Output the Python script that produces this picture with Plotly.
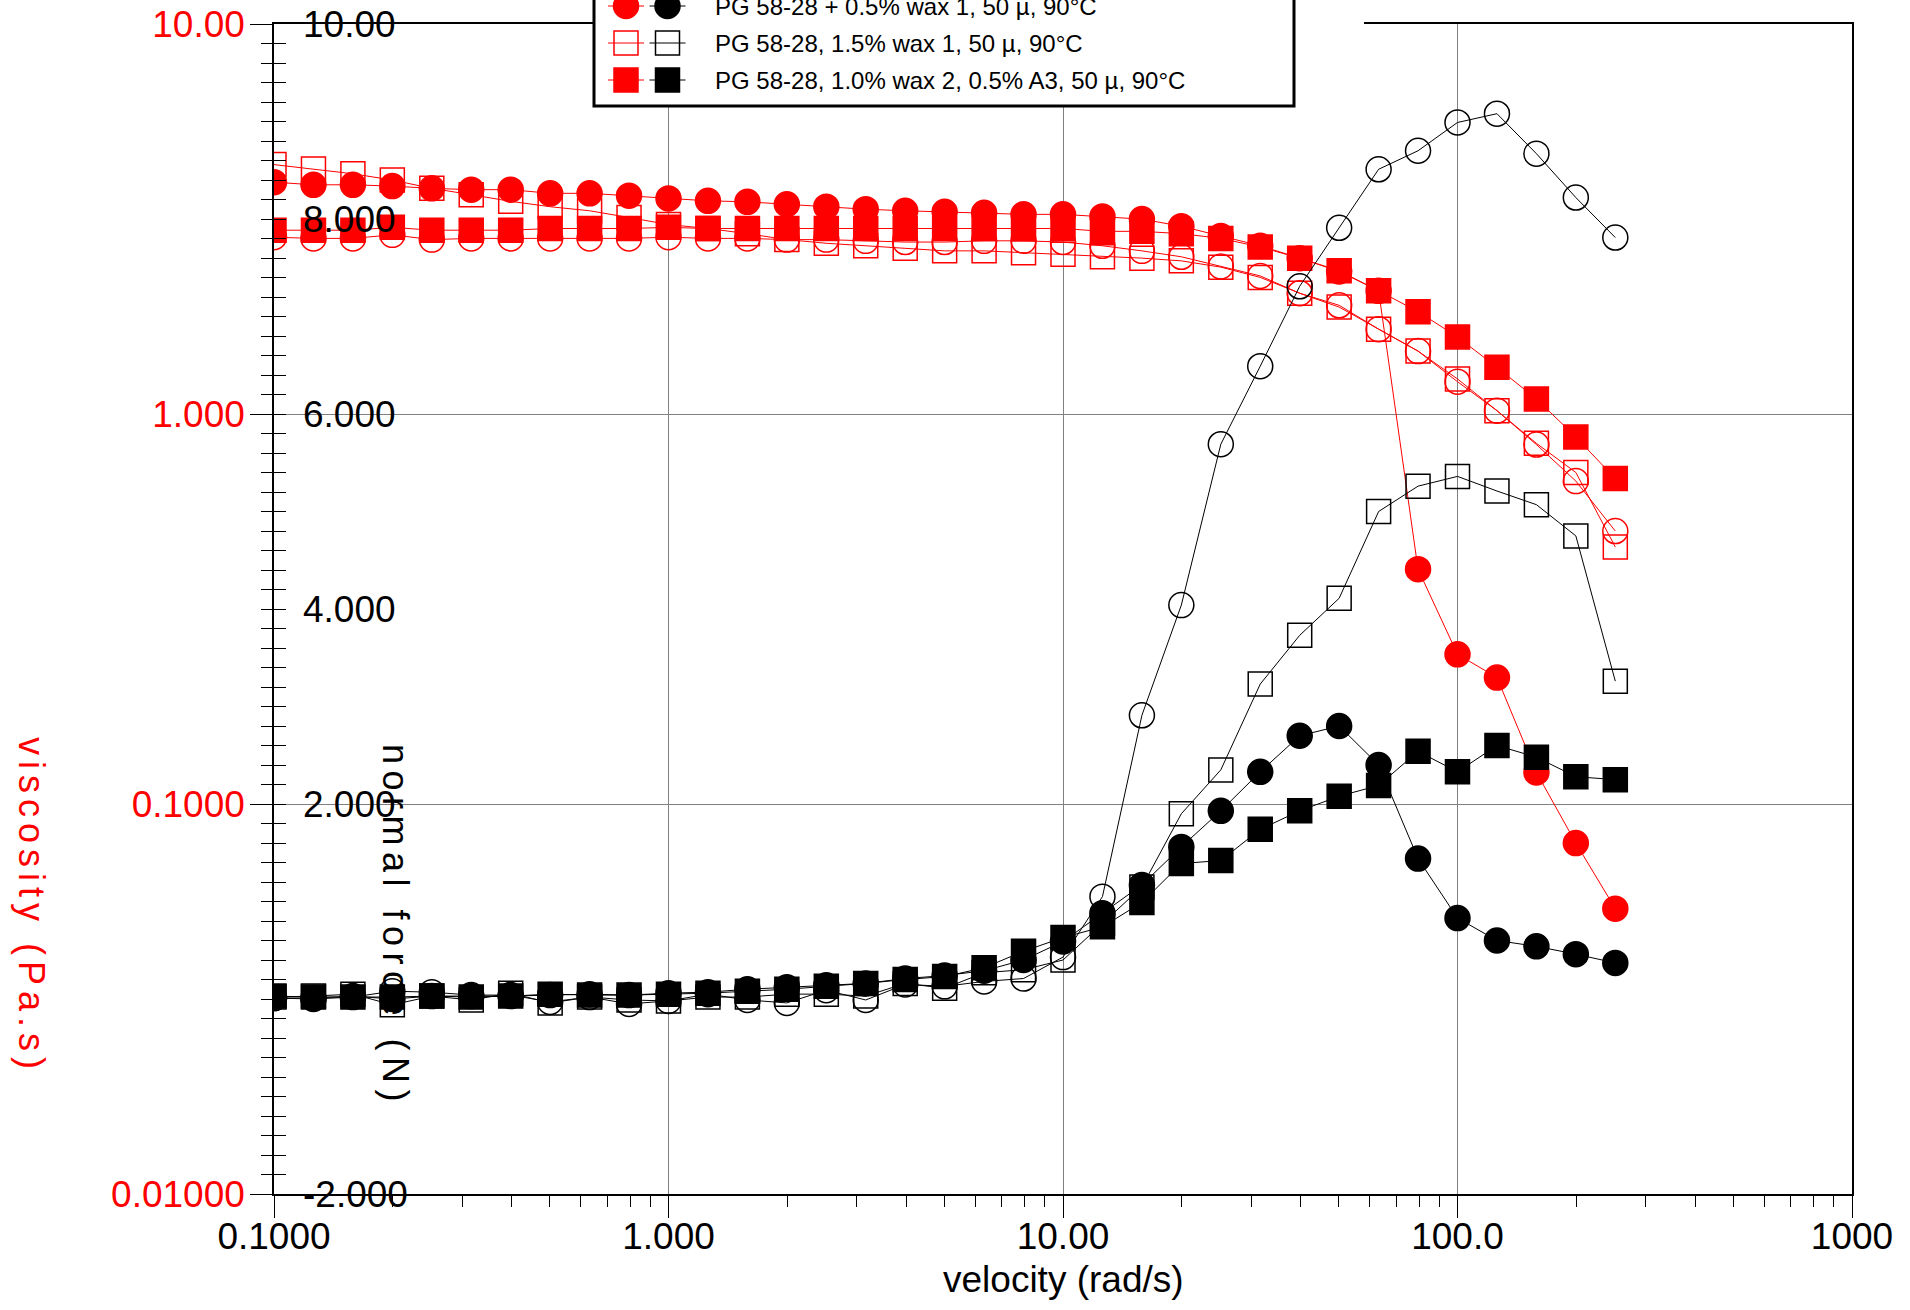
import plotly.graph_objects as go

# ---------------- data ----------------
velocity = [0.1, 0.1259, 0.1585, 0.1995, 0.2512, 0.3162, 0.3981, 0.5012, 0.631, 0.7943,
            1.0, 1.259, 1.585, 1.995, 2.512, 3.162, 3.981, 5.012, 6.31, 7.943,
            10.0, 12.59, 15.85, 19.95, 25.12, 31.62, 39.81, 50.12, 63.1, 79.43,
            100.0, 125.9, 158.5, 199.5, 251.2]

# viscosity (Pa.s)
visc_s1 = [2.84, 2.82, 2.82, 2.88, 2.80, 2.82, 2.82, 2.82, 2.82, 2.82,
           2.84, 2.82, 2.82, 2.80, 2.80, 2.78, 2.76, 2.76, 2.78, 2.78,
           2.76, 2.70, 2.62, 2.53, 2.39, 2.26, 2.04, 1.90, 1.65, 1.45,
           1.21, 1.02, 0.835, 0.673, 0.501]
visc_s2 = [3.93, 3.87, 3.87, 3.84, 3.79, 3.76, 3.76, 3.68, 3.68, 3.63,
           3.57, 3.52, 3.50, 3.45, 3.40, 3.35, 3.32, 3.30, 3.28, 3.25,
           3.25, 3.21, 3.16, 3.03, 2.86, 2.70, 2.51, 2.32, 2.07, 0.40,
           0.242, 0.211, 0.1205, 0.0794, 0.0539]
visc_s3 = [4.36, 4.25, 4.13, 3.98, 3.79, 3.65, 3.51, 3.40, 3.32, 3.19,
           3.06, 2.99, 2.90, 2.80, 2.74, 2.70, 2.66, 2.62, 2.62, 2.59,
           2.57, 2.53, 2.51, 2.47, 2.38, 2.24, 2.04, 1.88, 1.65, 1.45,
           1.23, 1.02, 0.841, 0.708, 0.456]
visc_s4 = [2.96, 2.96, 2.96, 3.01, 2.96, 2.96, 2.96, 2.99, 2.99, 2.99,
           3.01, 2.99, 2.99, 2.99, 2.99, 2.99, 2.99, 2.99, 2.99, 2.99,
           2.99, 2.94, 2.94, 2.90, 2.82, 2.68, 2.51, 2.33, 2.07, 1.83,
           1.576, 1.317, 1.093, 0.873, 0.683]

# normal force (N)
force_s1 = [0.01, 0.0, 0.02, 0.08, 0.07, 0.04, 0.04, -0.03, 0.02, -0.05,
            -0.02, 0.05, -0.01, -0.04, 0.09, -0.01, 0.15, 0.13, 0.18, 0.21,
            0.43, 1.05, 2.91, 4.04, 5.69, 6.49, 7.31, 7.91, 8.51, 8.70,
            8.99, 9.08, 8.67, 8.22, 7.81]
force_s2 = [0.01, 0.01, 0.03, 0.0, 0.03, 0.03, 0.03, 0.04, 0.05, 0.04,
            0.06, 0.07, 0.10, 0.12, 0.14, 0.16, 0.21, 0.24, 0.29, 0.40,
            0.59, 0.88, 1.17, 1.56, 1.93, 2.33, 2.70, 2.80, 2.40, 1.44,
            0.83, 0.60, 0.54, 0.46, 0.37]
force_s3 = [0.02, 0.03, 0.05, -0.06, 0.03, -0.01, 0.06, -0.04, 0.02, -0.01,
            -0.02, 0.02, 0.02, 0.05, 0.05, 0.03, 0.16, 0.11, 0.27, 0.30,
            0.40, 0.78, 1.15, 1.90, 2.35, 3.23, 3.73, 4.11, 5.00, 5.26,
            5.36, 5.21, 5.07, 4.75, 3.26]
force_s4 = [0.03, 0.02, 0.02, 0.02, 0.03, 0.02, 0.03, 0.05, 0.04, 0.04,
            0.05, 0.06, 0.08, 0.10, 0.13, 0.16, 0.20, 0.23, 0.32, 0.49,
            0.63, 0.74, 0.99, 1.39, 1.42, 1.74, 1.93, 2.08, 2.19, 2.54,
            2.33, 2.60, 2.48, 2.28, 2.25]

legend_labels = ["PG 58-28 + 0.5% wax 1, 50 \u00b5, 90\u00b0C",
                 "PG 58-28, 1.5% wax 1, 50 \u00b5, 90\u00b0C",
                 "PG 58-28, 1.0% wax 2, 0.5% A3, 50 \u00b5, 90\u00b0C"]
legend_symbols = ["circle", "square-open", "square"]

force_tick_vals = [10, 8, 6, 4, 2, -2]
force_tick_text = ["10.00", "8.000", "6.000", "4.000", "2.000", "-2.000"]

# ---------------- layout geometry (page pixels) ----------------
W, H = 1910, 1310
L, R, T, B = 274, 1852, 24, 1194
PW, PH = R - L, B - T
FONT = "Liberation Sans, Arial, sans-serif"
RED, BLACK, GRID = "#ff0000", "#000000", "#808080"


def px(x):
    return (x - L) / PW


def py(y):
    return (B - y) / PH


fig = go.Figure()

# viscosity traces (red)
red_specs = [(visc_s1, "circle-open"), (visc_s3, "square-open"),
             (visc_s2, "circle"), (visc_s4, "square")]
for vals, sym in red_specs:
    fig.add_trace(go.Scatter(
        x=velocity, y=vals, mode="lines+markers", yaxis="y", showlegend=False,
        line=dict(color=RED, width=1),
        marker=dict(symbol=sym, size=25 if "circle" in sym else 24, color=RED,
                    line=dict(color=RED, width=1.5))))

# normal force traces (black)
black_specs = [(force_s1, "circle-open"), (force_s3, "square-open"),
               (force_s2, "circle"), (force_s4, "square")]
for vals, sym in black_specs:
    fig.add_trace(go.Scatter(
        x=velocity, y=vals, mode="lines+markers", yaxis="y2", showlegend=False,
        line=dict(color=BLACK, width=1),
        marker=dict(symbol=sym, size=25 if "circle" in sym else 24, color=BLACK,
                    line=dict(color=BLACK, width=1.5))))

fig.update_layout(
    width=W, height=H,
    margin=dict(l=L, r=W - R, t=T, b=H - B, pad=0, autoexpand=False),
    paper_bgcolor="white", plot_bgcolor="white",
    font=dict(family=FONT, size=37, color=BLACK),
    showlegend=False,
    xaxis=dict(type="log", range=[-1, 3], dtick=1, tickformat=".4r", automargin=False,
               showgrid=True, gridcolor=GRID, gridwidth=1, zeroline=False,
               showline=True, linecolor=BLACK, linewidth=1.5, mirror=True,
               ticks="outside", ticklen=22, tickcolor=BLACK, tickwidth=1,
               tickfont=dict(size=37, color=BLACK, family=FONT),
               ticklabelstandoff=-13,
               minor=dict(dtick="D1", ticks="outside", ticklen=11,
                          tickcolor=BLACK, tickwidth=1, showgrid=False)),
    yaxis=dict(type="log", range=[-2, 1], dtick=1, tickformat=".4r", automargin=False,
               showgrid=True, gridcolor=GRID, gridwidth=1, zeroline=False,
               showline=True, linecolor=BLACK, linewidth=1.5, mirror=True,
               ticks="outside", ticklen=22, tickcolor=BLACK, tickwidth=1,
               tickfont=dict(size=37, color=RED, family=FONT),
               ticklabelstandoff=-2),
    yaxis2=dict(range=[-2, 10], overlaying="y", side="left", anchor="x", automargin=False,
                showgrid=False, zeroline=False, showline=False,
                showticklabels=False, dtick=2,
                ticks="outside", ticklen=12, tickcolor=BLACK, tickwidth=1,
                minor=dict(dtick=0.2, ticks="outside", ticklen=12,
                           tickcolor=BLACK, tickwidth=1, showgrid=False)),
    yaxis3=dict(range=[-2, 10], overlaying="y", side="left", anchor="x", automargin=False,
                showgrid=False, zeroline=False, showline=False,
                showticklabels=False, dtick=2,
                ticks="inside", ticklen=12, tickcolor=BLACK, tickwidth=1,
                minor=dict(dtick=0.2, ticks="inside", ticklen=12,
                           tickcolor=BLACK, tickwidth=1, showgrid=False)),
)
# invisible helper trace that activates the inner tick axis
fig.add_trace(go.Scatter(x=[velocity[0]], y=[force_s1[0]], yaxis="y3", mode="markers",
                         marker=dict(opacity=0), showlegend=False, hoverinfo="skip"))

annotations = []
# normal force tick labels inside the plot
for v, t in zip(force_tick_vals, force_tick_text):
    annotations.append(dict(text=t, xref="paper", x=0, xshift=27, xanchor="left",
                            yref="y2", y=v, yanchor="middle", showarrow=False,
                            font=dict(size=37, color=BLACK, family=FONT)))

# axis titles
annotations.append(dict(text="velocity (rad/s)", xref="paper", yref="paper",
                        x=px(1063), y=py(1279), xanchor="center", yanchor="middle",
                        showarrow=False, font=dict(size=37, color=BLACK, family=FONT)))
annotations.append(dict(text='<span style="letter-spacing:6px">viscosity (Pa.s)</span>',
                        xref="paper", yref="paper", x=px(32), y=py(906),
                        xanchor="center", yanchor="middle", textangle=90,
                        showarrow=False, font=dict(size=36, color=RED, family=FONT)))
annotations.append(dict(text='<span style="letter-spacing:6.5px">normal force (N)</span>',
                        xref="paper", yref="paper", x=px(396), y=py(926),
                        xanchor="center", yanchor="middle", textangle=90,
                        showarrow=False, font=dict(size=36, color=BLACK, family=FONT)))

# ---------------- custom legend ----------------
shapes = []
shapes.append(dict(type="rect", xref="paper", yref="paper", layer="above",
                   x0=px(1294), x1=px(1364), y0=py(30), y1=py(-10),
                   fillcolor="white", line=dict(width=0)))
shapes.append(dict(type="rect", xref="paper", yref="paper", layer="above",
                   x0=px(594), x1=px(1294), y0=py(106), y1=py(-60),
                   fillcolor="white", line=dict(color=BLACK, width=3)))
row_y = [6, 43, 80]
for yrow, sym, label in zip(row_y, legend_symbols, legend_labels):
    for cx, col in [(626, RED), (667.5, BLACK)]:
        shapes.append(dict(type="line", xref="paper", yref="paper", layer="above",
                           x0=px(cx - 18), x1=px(cx + 18), y0=py(yrow), y1=py(yrow),
                           line=dict(color=col, width=1)))
        filled = not sym.endswith("open")
        stype = "circle" if sym.startswith("circle") else "rect"
        half = 12.5 if stype == "circle" else 12
        shapes.append(dict(type=stype, xref="paper", yref="paper", layer="above",
                           xsizemode="pixel", ysizemode="pixel",
                           xanchor=px(cx), yanchor=py(yrow),
                           x0=-half, x1=half, y0=-half, y1=half,
                           fillcolor=col if filled else "rgba(0,0,0,0)",
                           line=dict(color=col, width=1.5)))
    annotations.append(dict(text=label, xref="paper", yref="paper",
                            x=px(713), y=py(yrow), xanchor="left", yanchor="middle",
                            showarrow=False, font=dict(size=24, color=BLACK, family=FONT)))

fig.update_layout(annotations=annotations, shapes=shapes)
fig.write_html("out.html", config={"displayModeBar": False},
               post_script="document.body.style.margin='0px';")
